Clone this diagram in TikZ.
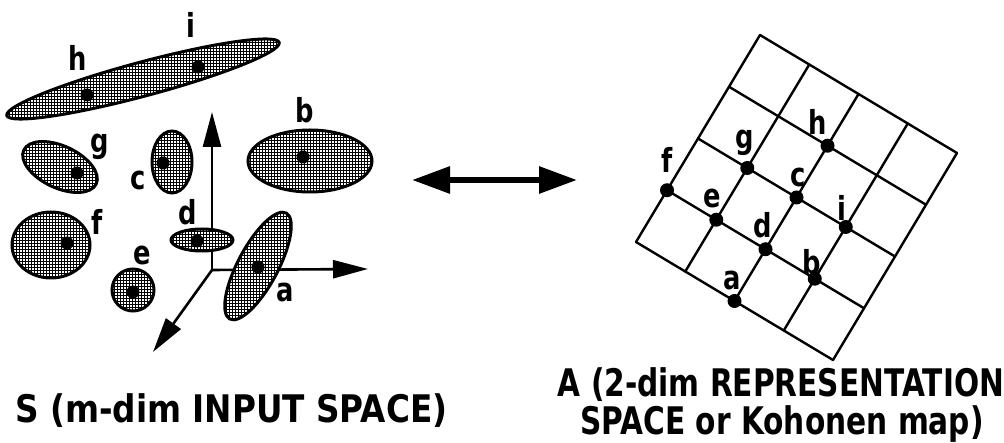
\documentclass[tikz,border=0pt]{standalone}
\usepackage{fontspec}
\newfontfamily\narrowfont[FakeStretch=0.78]{DejaVu Sans}
\newfontfamily\widerfont[FakeStretch=0.86]{DejaVu Sans}
\usetikzlibrary{arrows.meta,patterns.meta}
\tikzdeclarepattern{
  name=pgrid,
  type=uncolored,
  bottom left={(0pt,0pt)},
  top right={(3.4pt,3.4pt)},
  tile size={(3.4pt,3.4pt)},
  code={
    \pgfpathrectangle{\pgfpointorigin}{\pgfqpoint{3.4pt}{1.0pt}}
    \pgfpathrectangle{\pgfpointorigin}{\pgfqpoint{1.0pt}{3.4pt}}
    \pgfusepath{fill}
  }
}
\begin{document}
\begin{tikzpicture}[x=1pt,y=-1pt,
  blob/.style={line width=3pt, preaction={fill=white}, pattern=pgrid},
  ctr/.style={circle, fill=black, inner sep=0pt, minimum size=13pt},
  lab/.style={font=\narrowfont\bfseries\fontsize{33}{33}\selectfont, inner sep=0pt},
  captxt/.style={font=\narrowfont\bfseries\fontsize{38}{41}\selectfont, inner sep=0pt},
  captxtw/.style={font=\widerfont\bfseries\fontsize{38}{41}\selectfont, inner sep=0pt},
  gdot/.style={circle, fill=black, inner sep=0pt, minimum size=14pt},
  gline/.style={line width=2.4pt, line cap=round},
  axis/.style={line width=2.6pt, -{Triangle[length=35pt,width=18pt]}},
  dbl/.style={line width=6pt, {Triangle[length=38pt,width=26pt]}-{Triangle[length=38pt,width=26pt]}},
]
\useasboundingbox (0,0) rectangle (1004,443);

% ---------- input space: axes ----------
\coordinate (O) at (212,270);
\coordinate (Yend) at (212,112);
\coordinate (Xend) at (368,269);
\coordinate (Zend) at (153,352);
\draw[axis] (O) -- (Yend);
\draw[axis] (O) -- (Xend);
\draw[axis] (O) -- (Zend);

% ---------- clusters ----------
\draw[blob] (143,79) ellipse [x radius=141, y radius=17, rotate=15];
\draw[blob] (60,167) ellipse [x radius=40, y radius=21, rotate=-25];
\draw[blob] (172,162) ellipse [x radius=20, y radius=31];
\draw[blob] (310,161) ellipse [x radius=62, y radius=31];
\draw[blob] (202,240) ellipse [x radius=31, y radius=11];
\draw[blob] (258,266) ellipse [x radius=60, y radius=20, rotate=62];
\draw[blob] (51,245) ellipse [x radius=39, y radius=33];
\draw[blob] (133,290) circle [radius=21];

\node[ctr] (hc) at (87,95) {};
\node[ctr] (ic) at (198,67) {};
\node[ctr] (gc) at (77,173) {};
\node[ctr] (cc) at (163,163) {};
\node[ctr] (bc) at (303,157) {};
\node[ctr] (dc) at (197,241) {};
\node[ctr] (ac) at (258,267) {};
\node[ctr] (fc) at (67,243) {};
\node[ctr] (ec) at (133,292) {};

\node[lab] (hl) at (78,58) {h};
\node[lab] (il) at (191,25) {i};
\node[lab] (gl) at (100,147) {g};
\node[lab] (cl) at (138,180) {c};
\node[lab] (bl) at (305,110) {b};
\node[lab] (dl) at (188,212) {d};
\node[lab] (fl) at (97,222) {f};
\node[lab] (el) at (142,255) {e};
\node[lab] (al) at (285,292) {a};

% ---------- double arrow ----------
\coordinate (L) at (412,180);
\coordinate (R) at (577,180);
\draw[dbl] (L) -- (R);

% ---------- Kohonen map grid ----------
\begin{scope}[shift={(760,35)}, x={(49.25pt,-29.5pt)}, y={(-31pt,-51.75pt)}]
  \foreach \k in {0,...,4} {
    \draw[gline] (\k,0) -- (\k,4);
    \draw[gline] (0,\k) -- (4,\k);
  }
  \node[gdot] (fg) at (0,3) {};
  \node[gdot] (gg) at (1,2) {};
  \node[gdot] (hg) at (2,1) {};
  \node[gdot] (cg) at (2,2) {};
  \node[gdot] (eg) at (1,3) {};
  \node[gdot] (dg) at (2,3) {};
  \node[gdot] (ig) at (3,2) {};
  \node[gdot] (bg) at (3,3) {};
  \node[gdot] (ag) at (2,4) {};
\end{scope}

\node[lab] (flm) at (667,160) {f};
\node[lab] (glm) at (745,143) {g};
\node[lab] (hlm) at (818,122) {h};
\node[lab] (clm) at (798,177) {c};
\node[lab] (elm) at (712,198) {e};
\node[lab] (dlm) at (763,225) {d};
\node[lab] (ilm) at (842,208) {i};
\node[lab] (blm) at (812,262) {b};
\node[lab] (alm) at (732,280) {a};

% ---------- captions ----------
\node[captxtw, anchor=base west] (capS) at (15,423) {S (m-dim INPUT SPACE)};
\node[captxt, anchor=base] (capA1) at (781,397) {A (2-dim REPRESENTATION};
\node[captxt, anchor=base] (capA2) at (782,434) {SPACE or Kohonen map)};
\end{tikzpicture}
\end{document}
